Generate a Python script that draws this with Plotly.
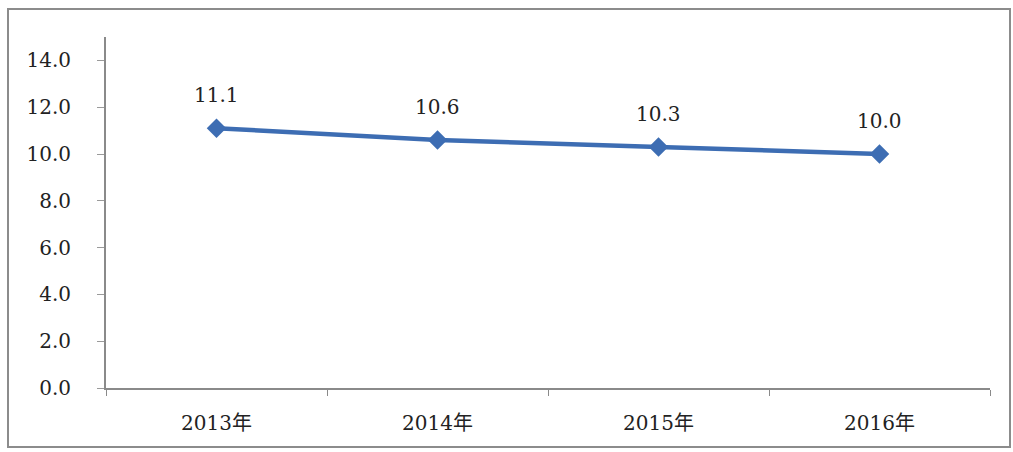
import plotly.graph_objects as go

categories = ["2013年", "2014年", "2015年", "2016年"]
values = [11.1, 10.6, 10.3, 10.0]
y_ticks = [0, 2, 4, 6, 8, 10, 12, 14]

font_family = "DejaVu Serif, Liberation Serif, Noto Sans CJK SC, serif"
line_color = "#3D6DB3"
text_color = "#222222"

fig = go.Figure()
fig.add_trace(go.Scatter(
    x=categories, y=values, mode="lines+markers",
    line=dict(color=line_color, width=4.5),
    marker=dict(symbol="diamond", size=15, color=line_color),
    hoverinfo="skip", showlegend=False,
))

for c, v in zip(categories, values):
    fig.add_annotation(x=c, y=v, text=f"{v:.1f}", showarrow=False, yshift=33,
                       font=dict(family=font_family, size=20, color=text_color))

fig.update_layout(
    width=1013, height=452,
    margin=dict(l=106, r=23, t=37, b=64),
    paper_bgcolor="white", plot_bgcolor="white",
    font=dict(family=font_family, size=20, color=text_color),
    xaxis=dict(
        type="category", range=[-0.5, 3.5],
        showline=True, linecolor="#8a8a8a", linewidth=2,
        ticks="outside", tickson="boundaries", ticklen=6, tickcolor="#8a8a8a",
        showgrid=False, zeroline=False, ticklabelstandoff=16,
        tickfont=dict(family=font_family, size=20, color=text_color),
    ),
    yaxis=dict(
        range=[0, 15], tickvals=y_ticks, tickformat=".1f",
        showline=True, linecolor="#8a8a8a", linewidth=2,
        ticks="outside", tickson="labels", ticklen=7, tickcolor="#9a9a9a",
        showgrid=False, zeroline=False, ticklabelstandoff=22,
        tickfont=dict(family=font_family, size=20, color=text_color),
    ),
    shapes=[dict(type="rect", xref="paper", yref="paper",
                 x0=(8 - 106) / 884, x1=(1010 - 106) / 884,
                 y0=(388 - 447) / 351, y1=(388 - 9) / 351,
                 line=dict(color="#8c8c8c", width=2), layer="below")],
)

fig.write_html("out.html")
